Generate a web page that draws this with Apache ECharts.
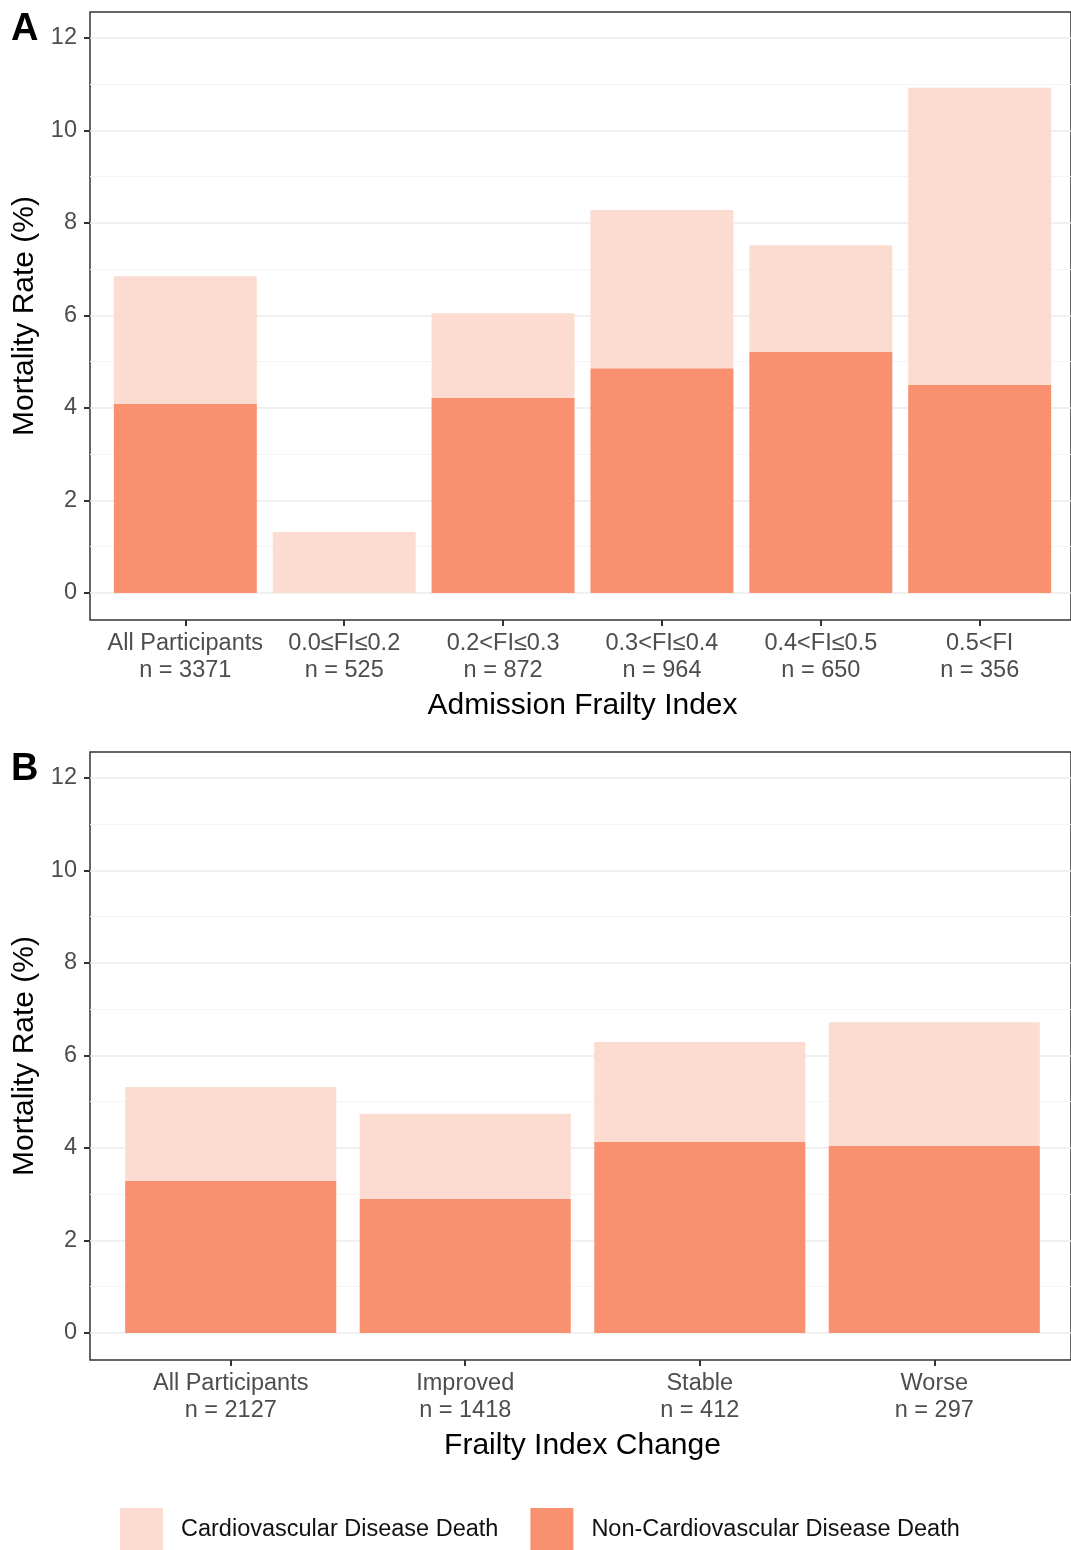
<!DOCTYPE html>
<html>
<head>
<meta charset="utf-8">
<script src="https://cdn.jsdelivr.net/npm/echarts@6/dist/echarts.min.js"></script>
<style>
  html, body { margin: 0; padding: 0; background: #fff; }
  #chart { width: 1071px; height: 1550px; }
</style>
</head>
<body>
<div id="chart"></div>
<script>
// panel A: admission frailty index
const catsA = ['All Participants', '0.0≤FI≤0.2', '0.2<FI≤0.3', '0.3<FI≤0.4', '0.4<FI≤0.5', '0.5<FI'];
const nA = [3371, 525, 872, 964, 650, 356];
const nonCvdA = [4.09, 0, 4.22, 4.86, 5.21, 4.50];
const cvdA = [2.76, 1.32, 1.83, 3.42, 2.31, 6.42];

// panel B: frailty index change
const catsB = ['All Participants', 'Improved', 'Stable', 'Worse'];
const nB = [2127, 1418, 412, 297];
const nonCvdB = [3.29, 2.90, 4.13, 4.04];
const cvdB = [2.03, 1.84, 2.16, 2.68];

const yTicks = [0, 2, 4, 6, 8, 10, 12];
const yMinor = [1, 3, 5, 7, 9, 11];

const FONT = 'Liberation Sans, Arial, sans-serif';
const LIGHT = '#fcdcd0';
const DARK = '#f9906f';
const PANEL_L = 90;
const PANEL_W = 985;
const PANEL_H = 608;
const TOPS = [12, 752];
const Y_MIN = -0.584;
const Y_MAX = 12.56;

const chart = echarts.init(document.getElementById('chart'));

// ggplot pads a discrete axis by 0.6 of a band on each side,
// so the bars sit in an inner grid inside the framed panel grid
function barGrid(n, top) {
  const band = PANEL_W / (n + 0.2);
  return { left: PANEL_L + 0.1 * band, top: top, width: n * band, height: PANEL_H };
}

const grids = [
  { left: PANEL_L, top: TOPS[0], width: PANEL_W, height: PANEL_H, show: true, borderColor: '#333', borderWidth: 1.5, backgroundColor: 'transparent' },
  { left: PANEL_L, top: TOPS[1], width: PANEL_W, height: PANEL_H, show: true, borderColor: '#333', borderWidth: 1.5, backgroundColor: 'transparent' },
  barGrid(catsA.length, TOPS[0]),
  barGrid(catsB.length, TOPS[1])
];

function panelAxes(gi) {
  const x = { type: 'value', gridIndex: gi, show: false, min: 0, max: 1, splitLine: { show: false } };
  const y = [
    {
      type: 'value', gridIndex: gi, min: Y_MIN, max: Y_MAX,
      axisLine: { show: false, onZero: false },
      axisTick: { show: true, customValues: yTicks, length: 6, lineStyle: { color: '#333', width: 2 } },
      axisLabel: { customValues: yTicks, fontSize: 23.5, color: '#4d4d4d', fontFamily: FONT, margin: 13 },
      splitLine: { show: true, lineStyle: { color: '#ebebeb', width: 1.6 } },
      name: 'Mortality Rate (%)',
      nameLocation: 'middle',
      nameGap: 48,
      nameTextStyle: { fontSize: 30, color: '#000', fontFamily: FONT }
    },
    {
      type: 'value', gridIndex: gi, min: Y_MIN, max: Y_MAX,
      axisLine: { show: false, onZero: false },
      axisTick: { show: false, customValues: yMinor },
      axisLabel: { show: false, customValues: yMinor },
      splitLine: { show: true, lineStyle: { color: '#f4f4f4', width: 1 } }
    }
  ];
  return { x, y };
}

function barAxes(gi, cats, ns, title) {
  const x = {
    type: 'category', gridIndex: gi, data: cats,
    axisLine: { show: false, onZero: false },
    axisTick: { show: true, alignWithLabel: true, length: 6, lineStyle: { color: '#333', width: 2 } },
    axisLabel: {
      interval: 0,
      formatter: (v, i) => v + '\nn = ' + ns[i],
      fontSize: 23.5, lineHeight: 27, color: '#4d4d4d', fontFamily: FONT, margin: 10
    },
    splitLine: { show: false },
    name: title,
    nameLocation: 'middle',
    nameGap: 71,
    nameTextStyle: { fontSize: 30, color: '#000', fontFamily: FONT }
  };
  const y = { type: 'value', gridIndex: gi, show: false, min: Y_MIN, max: Y_MAX, splitLine: { show: false } };
  return { x, y };
}

const pA = panelAxes(0), pB = panelAxes(1);
const bA = barAxes(2, catsA, nA, 'Admission Frailty Index');
const bB = barAxes(3, catsB, nB, 'Frailty Index Change');

// xAxis: 0 panelA, 1 panelB, 2 barsA, 3 barsB
// yAxis: 0,1 panelA, 2,3 panelB, 4 barsA, 5 barsB
function seriesFor(xi, yi, nonCvd, cvd) {
  return [
    {
      name: 'Non-Cardiovascular Disease Death',
      type: 'bar', stack: 's' + xi,
      xAxisIndex: xi, yAxisIndex: yi,
      barWidth: '90%',
      itemStyle: { color: DARK },
      data: nonCvd
    },
    {
      name: 'Cardiovascular Disease Death',
      type: 'bar', stack: 's' + xi,
      xAxisIndex: xi, yAxisIndex: yi,
      barWidth: '90%',
      itemStyle: { color: LIGHT },
      data: cvd
    }
  ];
}

const option = {
  backgroundColor: '#fff',
  animation: false,
  textStyle: { fontFamily: FONT },
  title: [
    { text: 'A', left: 6, top: 6, textStyle: { fontSize: 38, fontWeight: 'bold', color: '#000', fontFamily: FONT } },
    { text: 'B', left: 6, top: 746, textStyle: { fontSize: 38, fontWeight: 'bold', color: '#000', fontFamily: FONT } }
  ],
  grid: grids,
  legend: {
    left: 120,
    top: 1508,
    padding: 0,
    itemWidth: 43,
    itemHeight: 43,
    itemGap: 32,
    icon: 'rect',
    data: ['Cardiovascular Disease Death', 'Non-Cardiovascular Disease Death'],
    textStyle: { fontSize: 23.5, color: '#111', fontFamily: FONT, padding: [5, 0, 0, 13] }
  },
  xAxis: [pA.x, pB.x, bA.x, bB.x],
  yAxis: pA.y.concat(pB.y, [bA.y, bB.y]),
  series: seriesFor(2, 4, nonCvdA, cvdA).concat(seriesFor(3, 5, nonCvdB, cvdB))
};

chart.setOption(option);
</script>
</body>
</html>
